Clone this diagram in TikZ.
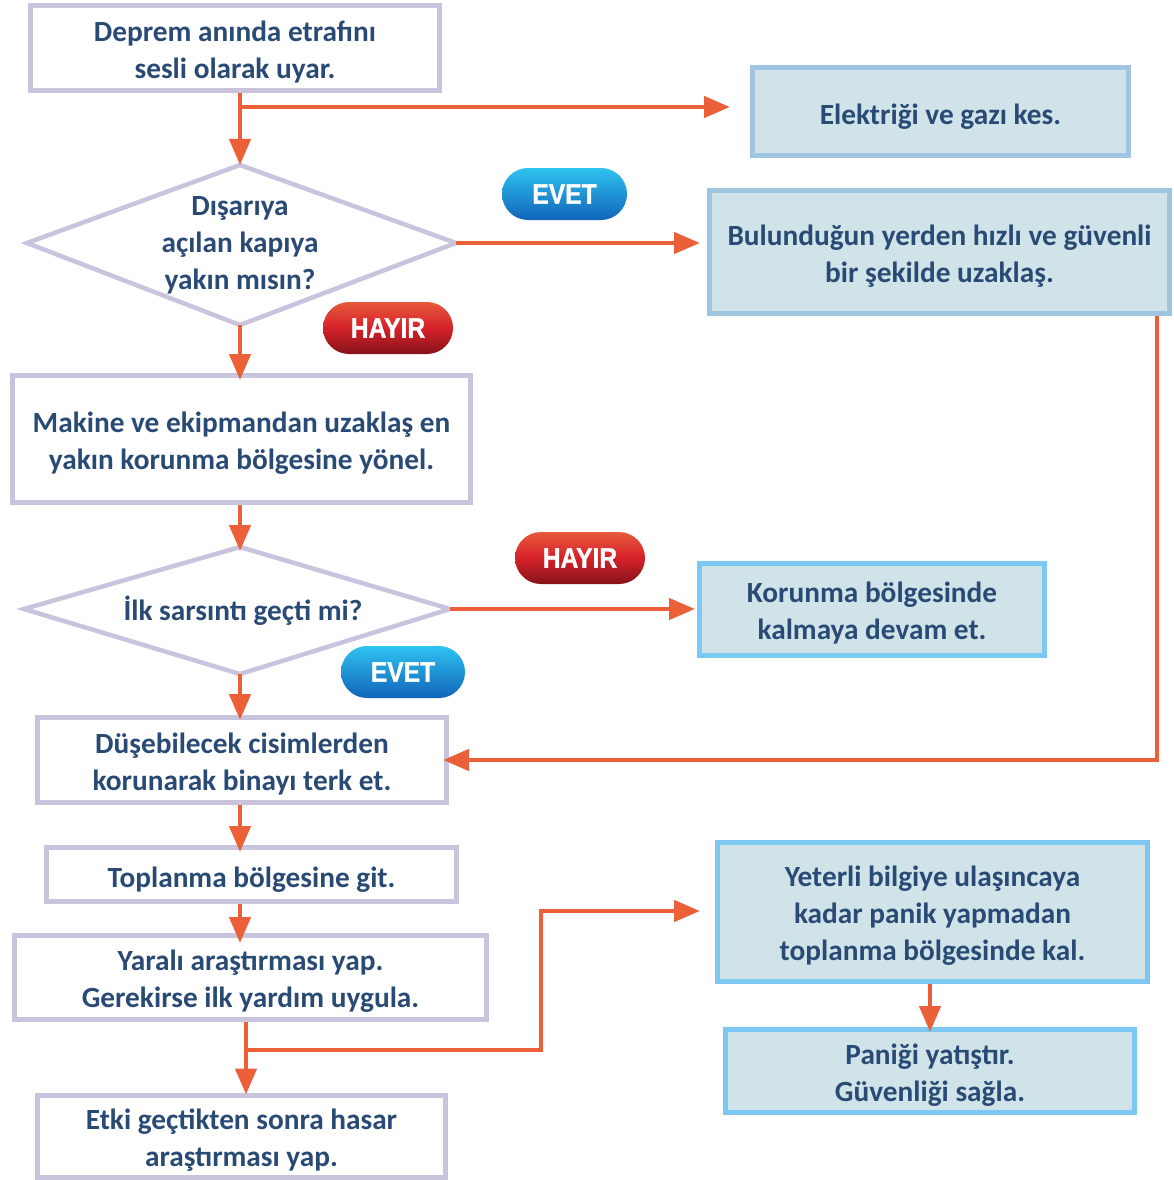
\documentclass[tikz,border=0pt]{standalone}
\usepackage{fontspec}
\setmainfont{Carlito}
\newfontfamily\pillfont[FakeBold=1.2]{Liberation Sans}
\usetikzlibrary{arrows.meta}
\definecolor{txt}{HTML}{294A75}
\definecolor{lav}{HTML}{C8C4DE}
\definecolor{bbord}{HTML}{9FC5E2}
\definecolor{bbordb}{HTML}{7DC8F2}
\definecolor{bfill}{HTML}{CFE3E9}
\definecolor{arr}{HTML}{EC6039}
\definecolor{evtop}{HTML}{2EC3EF}
\definecolor{evbot}{HTML}{1164BA}
\definecolor{hytop}{HTML}{E85A3C}
\definecolor{hymid}{HTML}{D52129}
\definecolor{hybot}{HTML}{86131A}
\tikzset{
  lbox/.style={draw=lav, line width=5pt, fill=white, text=txt, font=\bfseries\fontsize{29.3}{37}\selectfont, align=center, inner sep=0pt, execute at begin node={\rule{0pt}{30pt}}},
  bbox/.style={lbox, draw=bbord, fill=bfill},
  bboxb/.style={lbox, draw=bbordb, fill=bfill},
  ml/.style={execute at begin node={\rule{0pt}{65pt}}},
  mlt/.style={execute at begin node={\rule{0pt}{102pt}}},
  dml/.style={execute at begin node={\rule{0pt}{97pt}}},
  dtext/.style={text=txt, font=\bfseries\fontsize{29.3}{37}\selectfont, align=center, inner sep=0pt, execute at begin node={\rule{0pt}{30pt}}},
  dia/.style={draw=lav, line width=4.5pt, line join=miter},
  conn/.style={draw=arr, line width=4.5pt, -{Triangle[length=26pt,width=21pt]}},
  pill/.style={rounded corners=26pt, minimum height=52pt, inner sep=0pt, text=white, font=\pillfont\bfseries\fontsize{28}{30}\selectfont},
  evet/.style={pill, top color=evtop, bottom color=evbot},
  hayir/.style={pill, top color=hytop, bottom color=hybot, middle color=hymid},
}
\begin{document}
\begin{tikzpicture}[x=1pt,y=-1pt]
\useasboundingbox (0,0) rectangle (1173,1180);
% spine coordinates
\coordinate (sp) at (240,0);
\coordinate (spb) at (246,0);
\coordinate (rx) at (1157,0);
% boxes
\node[lbox, ml, minimum width=409pt, minimum height=85pt] (a) at (235,48) {Deprem anında etrafını\\sesli olarak uyar.};
\node[bbox, minimum width=376pt, minimum height=88pt] (b) at (940.5,111.5) {Elektriği ve gazı kes.};
\node[bbox, ml, minimum width=460pt, minimum height=123pt] (c) at (939.5,252) {Bulunduğun yerden hızlı ve güvenli\\bir şekilde uzaklaş.};
\node[lbox, ml, minimum width=458pt, minimum height=127pt] (e) at (241.5,439) {Makine ve ekipmandan uzaklaş en\\yakın korunma bölgesine yönel.};
\node[bboxb, ml, minimum width=345pt, minimum height=92pt] (f) at (872,609.5) {Korunma bölgesinde\\kalmaya devam et.};
\node[lbox, ml, minimum width=409pt, minimum height=85pt] (g) at (242,760) {Düşebilecek cisimlerden\\korunarak binayı terk et.};
\node[lbox, minimum width=410pt, minimum height=54pt] (h) at (251.5,874.5) {Toplanma bölgesine git.};
\node[lbox, ml, minimum width=472pt, minimum height=84pt] (i) at (250.5,977.5) {Yaralı araştırması yap.\\Gerekirse ilk yardım uygula.};
\node[lbox, ml, minimum width=408pt, minimum height=82pt] (j) at (241.5,1136) {Etki geçtikten sonra hasar\\araştırması yap.};
\node[bboxb, mlt, minimum width=430pt, minimum height=139pt] (k) at (932.5,912) {Yeterli bilgiye ulaşıncaya\\kadar panik yapmadan\\toplanma bölgesinde kal.};
\node[bboxb, ml, minimum width=409pt, minimum height=83pt] (l) at (930,1071) {Paniği yatıştır.\\Güvenliği sağla.};
% diamond 1
\coordinate (d1t) at (240,165);
\coordinate (d1l) at (27,243);
\coordinate (d1r) at (456,243);
\coordinate (d1b) at (240,325);
\draw[dia] (d1t) -- (d1r) -- (d1b) -- (d1l) -- cycle;
\node[dtext, dml] (d1) at (240,243) {Dışarıya\\açılan kapıya\\yakın mısın?};
% diamond 2
\coordinate (d2t) at (240,547);
\coordinate (d2l) at (24,609);
\coordinate (d2r) at (450,609);
\coordinate (d2b) at (240,674);
\draw[dia] (d2t) -- (d2r) -- (d2b) -- (d2l) -- cycle;
\node[dtext] (d2) at (243,608) {İlk sarsıntı geçti mi?};
% pills
\node[evet, minimum width=125pt] (p1) at (564.5,194) {\scalebox{0.88}[1]{EVET}};
\node[hayir, minimum width=130pt] (p2) at (388,328) {\scalebox{0.88}[1]{HAYIR}};
\node[hayir, minimum width=130pt] (p3) at (580,558) {\scalebox{0.88}[1]{HAYIR}};
\node[evet, minimum width=124pt] (p4) at (403,672) {\scalebox{0.88}[1]{EVET}};
% connectors
\coordinate (br1) at (240,107);
\draw[conn] (a.south -| sp) -- (d1t);
\draw[conn, shorten >=20pt] (br1) -- (br1 -| b.west);
\draw[conn, shorten >=7pt] (d1r) -- (d1r -| c.west);
\draw[conn, shorten >=-7pt] (d1b) -- (e.north -| sp);
\draw[conn, shorten >=-4pt] (e.south -| sp) -- (d2t);
\draw[conn, shorten >=2pt] (d2r) -- (d2r -| f.west);
\draw[conn, shorten >=-5pt] (d2b) -- (g.north -| sp);
\draw[conn, shorten >=-6pt] (c.south -| rx) |- (g.east);
\draw[conn, shorten >=-7pt] (g.south -| sp) -- (h.north -| sp);
\draw[conn, shorten >=-10pt] (h.south -| sp) -- (i.north -| sp);
\draw[conn, shorten >=-2pt] (i.south -| spb) -- (j.north -| spb);
\coordinate (br2) at (246,1050);
\coordinate (jx) at (541,911);
\draw[conn, shorten >=15pt] (br2) -| (jx) -- (jx -| k.west);
\draw[conn, shorten >=-5pt] (l.north |- k.south) -- (l.north);
\end{tikzpicture}
\end{document}
